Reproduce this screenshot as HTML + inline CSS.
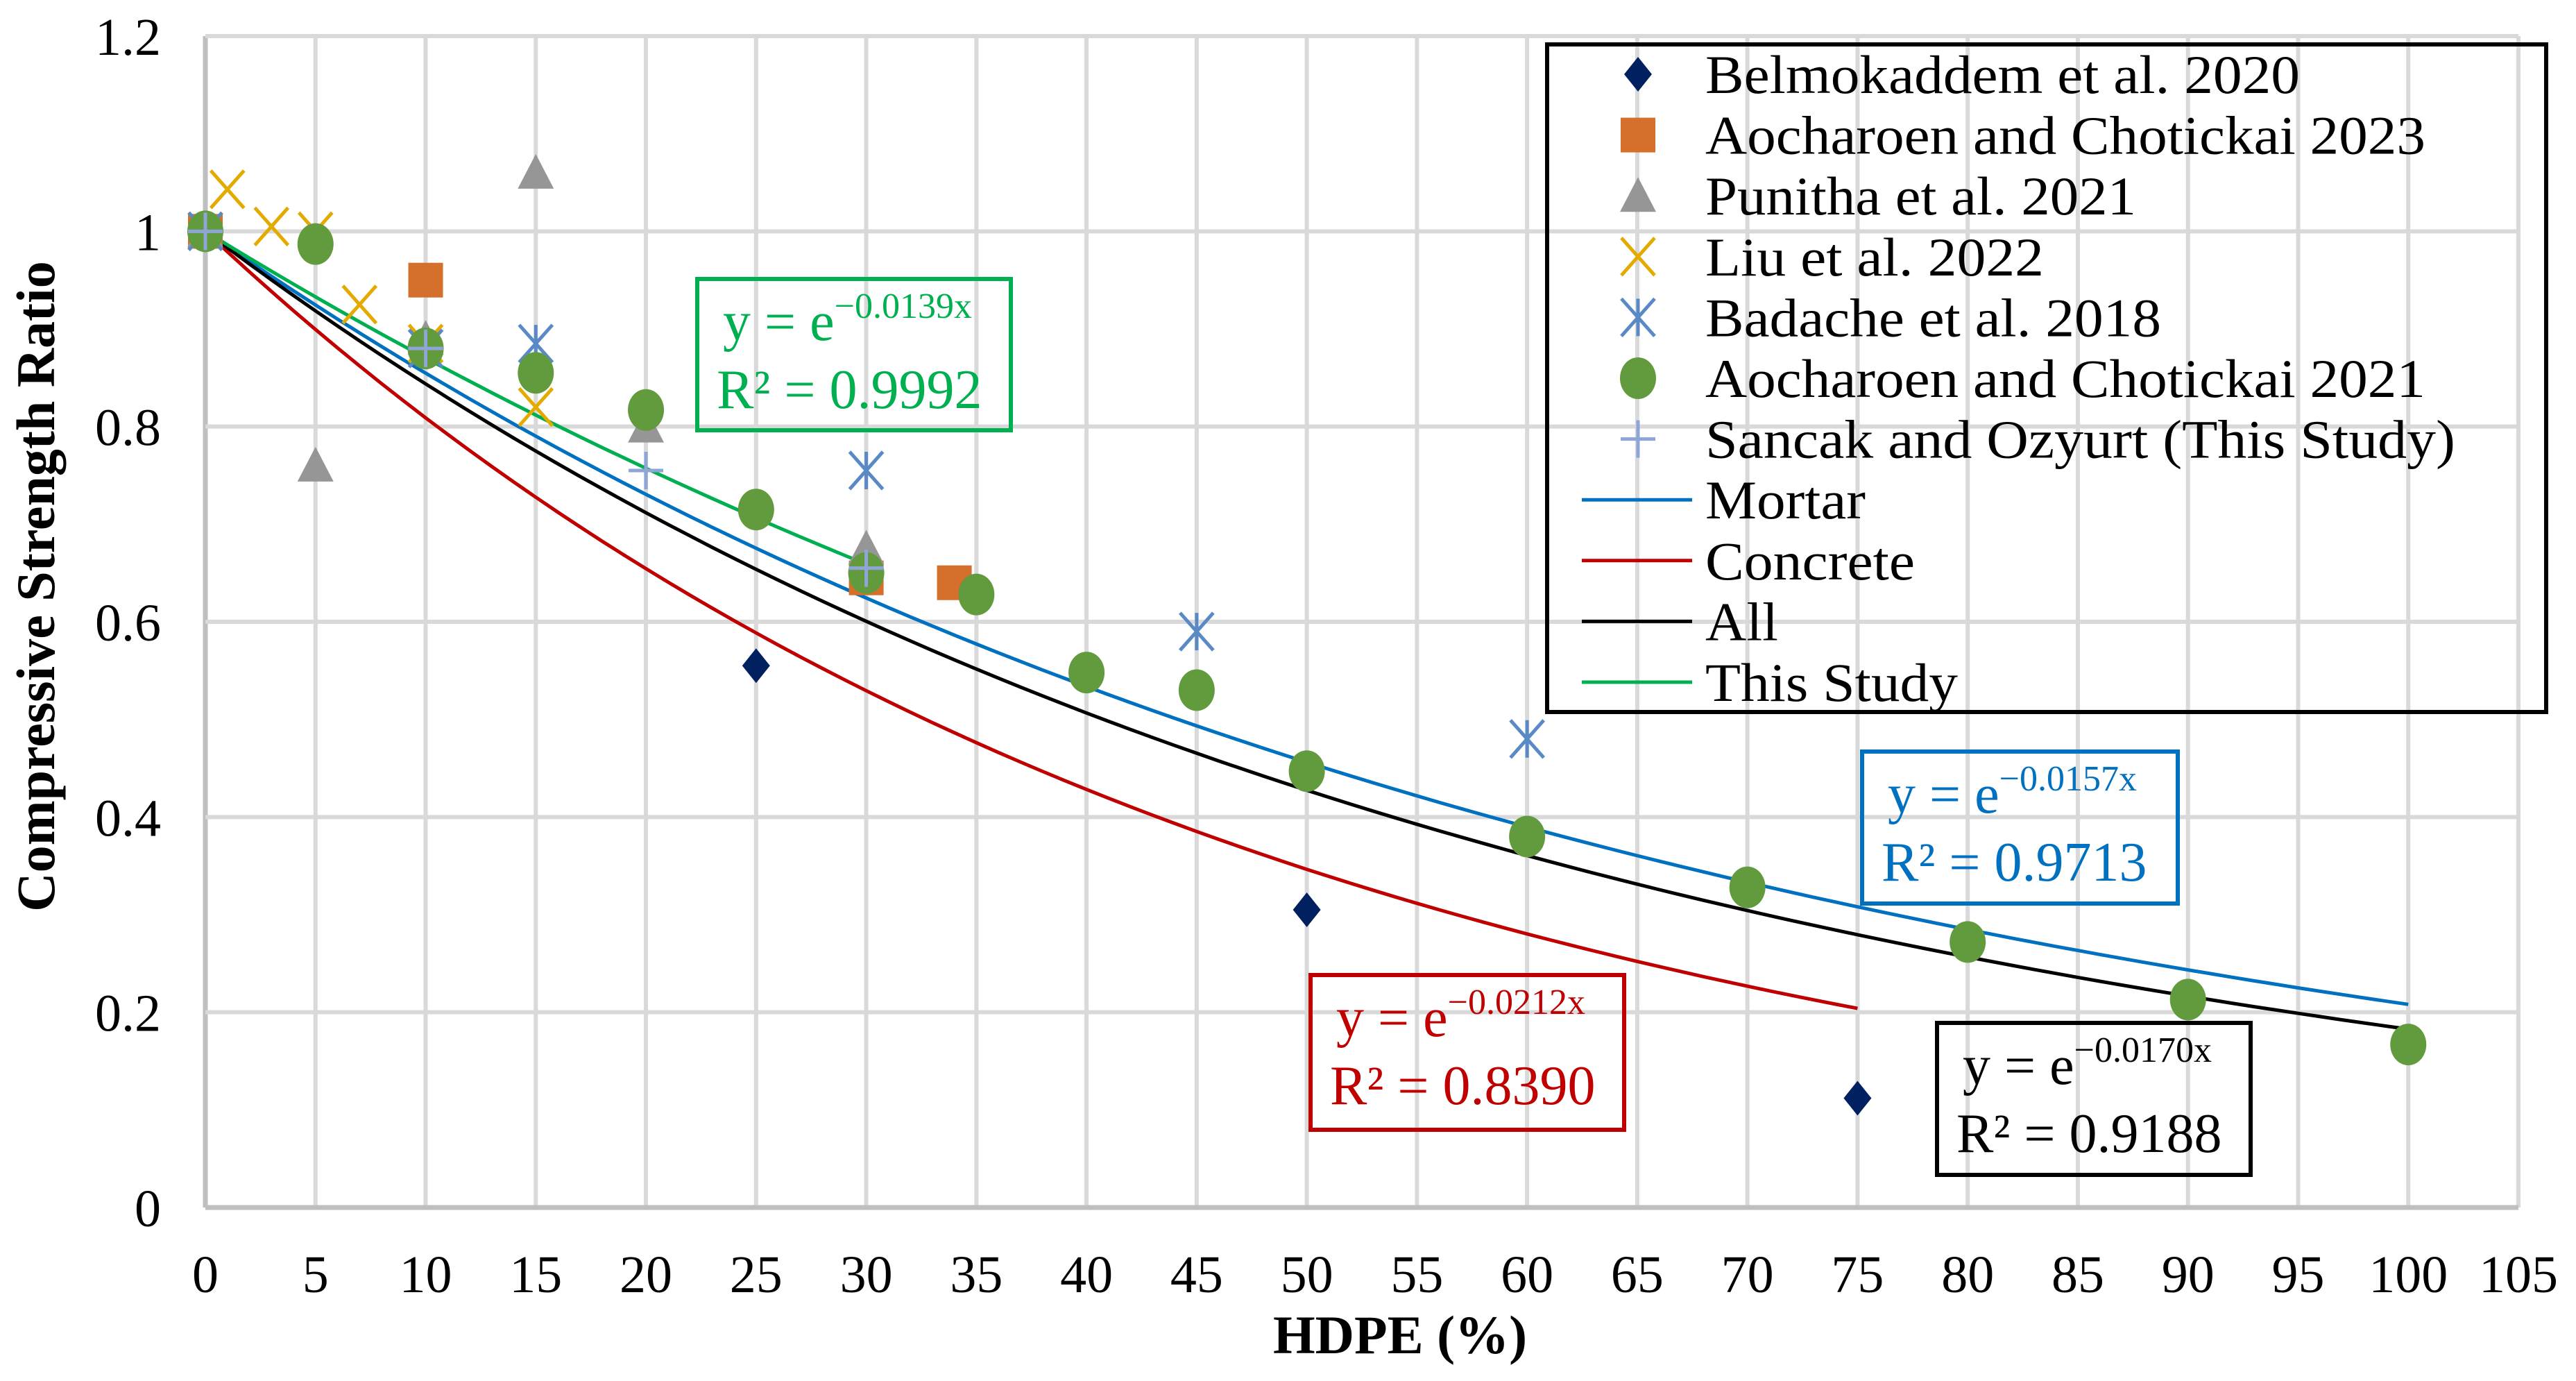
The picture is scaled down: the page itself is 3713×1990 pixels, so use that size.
<!DOCTYPE html>
<html><head><meta charset="utf-8">
<style>
html,body{margin:0;padding:0;background:#fff;}
svg{display:block;font-family:"Liberation Serif",serif;}
</style></head>
<body>
<svg id="chart" width="3713" height="1990" viewBox="0 0 3713 1990" xmlns="http://www.w3.org/2000/svg">
<g id="grid"></g>
<g id="curves"></g>
<g id="marks"></g>
<g id="labels"></g>
<g id="eqs"></g>
<g id="legend"></g>
</svg>
<script>
const xTicks=[0,5,10,15,20,25,30,35,40,45,50,55,60,65,70,75,80,85,90,95,100,105];
const yTicks=[0,0.2,0.4,0.6,0.8,1,1.2];
const yTickLabels=["0","0.2","0.4","0.6","0.8","1","1.2"];
const belX=[25,50,75], belY=[0.555,0.305,0.112];
const ao23X=[0,10,30,34], ao23Y=[1,0.95,0.645,0.64];
const punX=[0,5,10,15,20,30], punY=[1,0.76,0.89,1.06,0.8,0.675];
const liuX=[0,1,3,5,7,10,15], liuY=[1,1.043,1.005,1.0,0.925,0.885,0.82];
const badX=[0,10,15,30,45,60], badY=[1,0.88,0.885,0.755,0.59,0.48];
const ao21X=[0,5,10,15,20,25,30,35,40,45,50,60,70,80,90,100];
const ao21Y=[1,0.987,0.88,0.855,0.817,0.715,0.65,0.628,0.548,0.53,0.447,0.38,0.328,0.272,0.213,0.167];
const sanX=[0,10,20,30], sanY=[1,0.88,0.755,0.655];
const fitK=[0.0157,0.0212,0.0170,0.0139];
const fitMax=[100,75,100,30];
const fitColors=["#0070c0","#c00000","#000000","#00b050"];
const fitNames=["mortar-fit-line","concrete-fit-line","all-fit-line","this-study-fit-line"];
const eqK=["0.0139","0.0157","0.0212","0.0170"];
const eqR2=["0.9992","0.9713","0.8390","0.9188"];

const X0=296,X1=3630,Y0=1740,Y1=52;
const sx=v=>X0+(v/105)*(X1-X0);
const sy=v=>Y0-(v/1.2)*(Y0-Y1);
const NS="http://www.w3.org/2000/svg";
function mk(tag,attrs,parent){const e=document.createElementNS(NS,tag);for(const k in attrs)e.setAttribute(k,attrs[k]);parent.appendChild(e);return e;}
const grid=document.getElementById('grid'),curves=document.getElementById('curves'),marks=document.getElementById('marks'),labels=document.getElementById('labels'),eqs=document.getElementById('eqs'),legend=document.getElementById('legend');

xTicks.forEach(t=>{
 const l=mk('line',{x1:sx(t),x2:sx(t),y1:Y1,y2:Y0,stroke:t===0?'#bfbfbf':'#d9d9d9','stroke-width':t===0?7:6},grid);
 
 
 const tx=mk('text',{x:sx(t),y:1862,'font-size':76,'text-anchor':'middle',fill:'#000'},labels);
 tx.textContent=t;
 
 
});
yTicks.forEach((t,i)=>{
 const l=mk('line',{x1:X0,x2:X1,y1:sy(t),y2:sy(t),stroke:t===0?'#bfbfbf':'#d9d9d9','stroke-width':t===0?7:6},grid);
 
 
 const tx=mk('text',{x:232,y:sy(t)+27,'font-size':76,'text-anchor':'end',fill:'#000'},labels);
 tx.textContent=yTickLabels[i];
 
 
});
const xt=mk('text',{x:2018,y:1950,'font-size':78,'font-weight':'bold','text-anchor':'middle'},labels);
xt.textContent='HDPE (%)';


const yt=mk('text',{x:0,y:0,'font-size':78,'font-weight':'bold','text-anchor':'middle',transform:'translate(78,845) rotate(-90)'},labels);
yt.textContent='Compressive Strength Ratio';



fitK.forEach((k,i)=>{
 let d='';for(let x=0;x<=fitMax[i];x+=1){d+=(x?'L':'M')+sx(x).toFixed(1)+','+sy(Math.exp(-k*x)).toFixed(1);}
 const p=mk('path',{d:d,fill:'none',stroke:fitColors[i],'stroke-width':5},curves);
 
 
});

function marker(type,cx,cy,parent,name){
 let e;
 if(type==='diamond'){e=mk('polygon',{points:`${cx},${cy-25} ${cx+20},${cy} ${cx},${cy+25} ${cx-20},${cy}`,fill:'#002060'},parent);}
 else if(type==='square'){e=mk('rect',{x:cx-25,y:cy-25,width:50,height:50,fill:'#d46f2c'},parent);}
 else if(type==='tri'){e=mk('polygon',{points:`${cx},${cy-27} ${cx+26},${cy+23} ${cx-26},${cy+23}`,fill:'#969696'},parent);}
 else if(type==='x'){e=mk('path',{d:`M${cx-24},${cy-27}L${cx+24},${cy+27}M${cx+24},${cy-27}L${cx-24},${cy+27}`,stroke:'#e3aa00','stroke-width':5,fill:'none'},parent);}
 else if(type==='star'){e=mk('path',{d:`M${cx-24},${cy-27}L${cx+24},${cy+27}M${cx+24},${cy-27}L${cx-24},${cy+27}M${cx},${cy-27}L${cx},${cy+27}`,stroke:'#5a8ac6','stroke-width':5,fill:'none'},parent);}
 else if(type==='circle'){e=mk('ellipse',{cx:cx,cy:cy,rx:26,ry:30,fill:'#629a3e'},parent);}
 else {e=mk('path',{d:`M${cx-25},${cy}L${cx+25},${cy}M${cx},${cy-27}L${cx},${cy+27}`,stroke:'#8fa5d8','stroke-width':5,fill:'none'},parent);}
 
 
}
const series=[
 ['diamond',belX,belY,'belmokaddem-point'],
 ['square',ao23X,ao23Y,'aocharoen-2023-point'],
 ['tri',punX,punY,'punitha-point'],
 ['x',liuX,liuY,'liu-point'],
 ['star',badX,badY,'badache-point'],
 ['circle',ao21X,ao21Y,'aocharoen-2021-point'],
 ['plus',sanX,sanY,'sancak-point']];
series.forEach(s=>s[1].forEach((x,j)=>marker(s[0],sx(x),sy(s[2][j]),marks,s[3])));

const eqBoxes=[[1005,402,452,218,'#00b050','this-study-equation'],[2684,1083,455,219,'#0070c0','mortar-equation'],[1889,1405,452,223,'#c00000','concrete-equation'],[2792,1474,452,219,'#000000','all-equation']];
eqBoxes.forEach((b,i)=>{
 const g=mk('g',{},eqs);
 
 
 mk('rect',{x:b[0],y:b[1],width:b[2],height:b[3],fill:'none',stroke:b[4],'stroke-width':6},g);
 const t1=mk('text',{x:b[0]+37,y:b[1]+88,'font-size':80,fill:b[4]},g);
 t1.innerHTML='y = e<tspan dy="-32" font-size="52">\u2212'+eqK[i]+'x</tspan>';
 const t2=mk('text',{x:b[0]+28,y:b[1]+186,'font-size':80,fill:b[4]},g);
 t2.textContent='R\u00b2 = '+eqR2[i];
});

const lg=mk('rect',{x:2230,y:64,width:1440,height:962,fill:'none',stroke:'#000','stroke-width':6},legend);


const legNames=['Belmokaddem et al. 2020','Aocharoen and Chotickai 2023','Punitha et al. 2021','Liu et al. 2022','Badache et al. 2018','Aocharoen and Chotickai 2021','Sancak and Ozyurt (This Study)','Mortar','Concrete','All','This Study'];
const legW=[857,1038,621,488,657,1038,1081,231,302,105,364];
const legTypes=['diamond','square','tri','x','star','circle','plus'];
legNames.forEach((n,i)=>{
 const y=107+i*87.6;
 const g=mk('g',{},legend);
 
 
 if(i<7){marker(legTypes[i],2361,y,g,'legend-marker');}
 else{const l=mk('line',{x1:2280,x2:2439,y1:y,y2:y,stroke:fitColors[i-7],'stroke-width':5},g);
  
  }
 const t=mk('text',{x:2458,y:y+27,'font-size':78,textLength:legW[i],lengthAdjust:'spacingAndGlyphs'},g);
 t.textContent=n;
});
</script>
</body></html>
